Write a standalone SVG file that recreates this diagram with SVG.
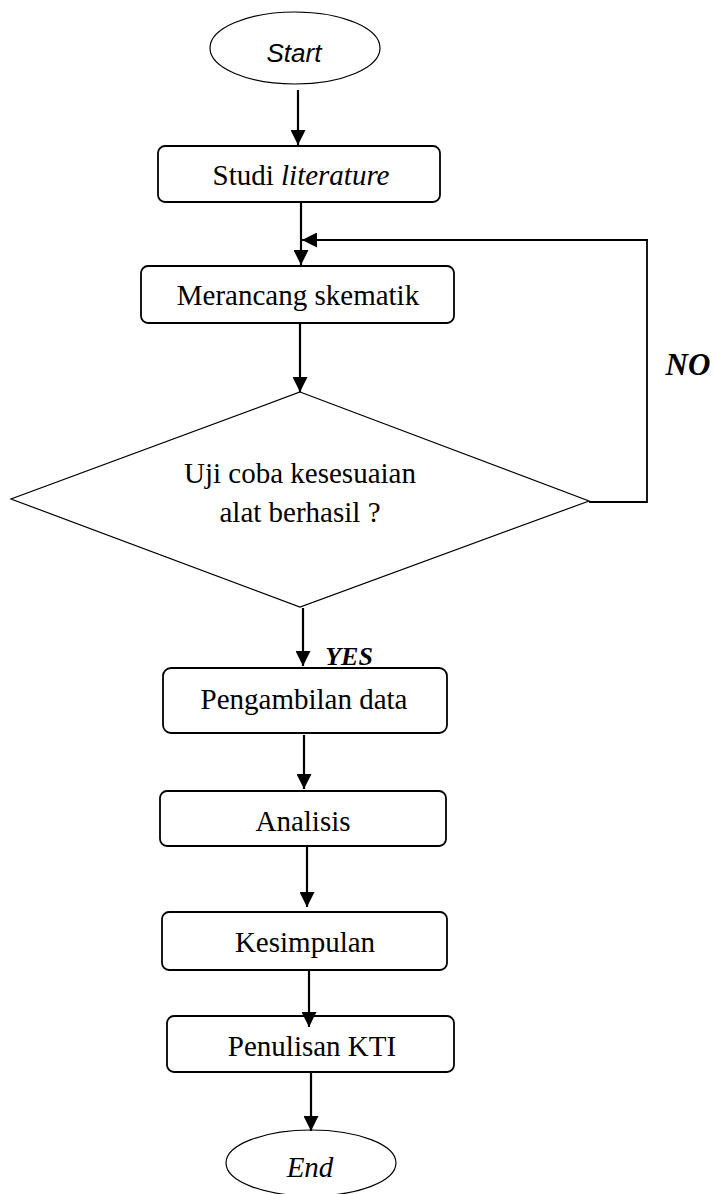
<svg xmlns="http://www.w3.org/2000/svg" width="715" height="1194" viewBox="0 0 715 1194">
<style>
.box{fill:#fff;stroke:#000;stroke-width:1.8}
.shape{fill:#fff;stroke:#000;stroke-width:1.2}
.t{font-family:"Liberation Serif","Times New Roman",serif;font-size:29px;fill:#000;text-anchor:middle}
.c{fill:none;stroke:#000;stroke-width:2.2}
.thin{fill:none;stroke:#000;stroke-width:1.8}
</style>
<defs>
<marker id="ah" viewBox="0 0 10 10" refX="10" refY="5" markerWidth="15" markerHeight="15" markerUnits="userSpaceOnUse" orient="auto">
<path d="M0,0 L10,5 L0,10 Z" fill="#000"/>
</marker>
</defs>
<g id="start">
<ellipse class="shape" cx="295" cy="48" rx="85" ry="36"/>
<text x="294" y="62" style="font-family:'Liberation Sans',Arial,sans-serif;font-size:26px;font-style:italic;text-anchor:middle">Start</text>
</g>
<g id="studi">
<rect class="box" x="158" y="146" width="282" height="56" rx="7"/>
<text class="t" x="301" y="185">Studi <tspan font-style="italic">literature</tspan></text>
</g>
<g id="merancang">
<rect class="box" x="141" y="266" width="313" height="57" rx="7"/>
<text class="t" x="298" y="305">Merancang skematik</text>
</g>
<g id="uji">
<polygon class="shape" points="300,392 589,501 300,607 11,499"/>
<text class="t" x="300" y="483">Uji coba kesesuaian</text>
<text class="t" x="300" y="522">alat berhasil ?</text>
</g>
<g id="labels">
<text x="688" y="375" style="font-family:'Liberation Serif','Times New Roman',serif;font-size:31px;font-weight:bold;font-style:italic;text-anchor:middle">NO</text>
<text x="349" y="665" style="font-family:'Liberation Serif','Times New Roman',serif;font-size:26px;font-weight:bold;font-style:italic;text-anchor:middle">YES</text>
</g>
<g id="pengambilan">
<rect class="box" x="163" y="668" width="284" height="65" rx="8"/>
<text class="t" x="304" y="709">Pengambilan data</text>
</g>
<g id="analisis">
<rect class="box" x="160" y="791" width="286" height="55" rx="7"/>
<text class="t" x="303" y="831">Analisis</text>
</g>
<g id="kesimpulan">
<rect class="box" x="162" y="912" width="285" height="58" rx="7"/>
<text class="t" x="305" y="952">Kesimpulan</text>
</g>
<g id="penulisan">
<rect class="box" x="167" y="1016" width="287" height="56" rx="7"/>
<text class="t" x="312" y="1056">Penulisan KTI</text>
</g>
<g id="end">
<ellipse class="shape" cx="311" cy="1163" rx="85" ry="33"/>
<text class="t" x="310" y="1177" font-style="italic">End</text>
</g>
<g id="connectors">
<line class="c" x1="298" y1="90" x2="298" y2="145" marker-end="url(#ah)"/>
<line class="c" x1="301" y1="203" x2="301" y2="265" marker-end="url(#ah)"/>
<polyline class="thin" points="589,502 647,502 647,240"/>
<line class="c" x1="648" y1="240" x2="302" y2="240" marker-end="url(#ah)"/>
<line class="c" x1="300" y1="324" x2="300" y2="392" marker-end="url(#ah)"/>
<line class="c" x1="303" y1="608" x2="303" y2="666" marker-end="url(#ah)"/>
<line class="c" x1="304" y1="735" x2="304" y2="789" marker-end="url(#ah)"/>
<line class="c" x1="307" y1="847" x2="307" y2="907" marker-end="url(#ah)"/>
<line class="c" x1="309" y1="971" x2="309" y2="1027" marker-end="url(#ah)"/>
<line class="c" x1="311" y1="1073" x2="311" y2="1131" marker-end="url(#ah)"/>
</g>
</svg>
